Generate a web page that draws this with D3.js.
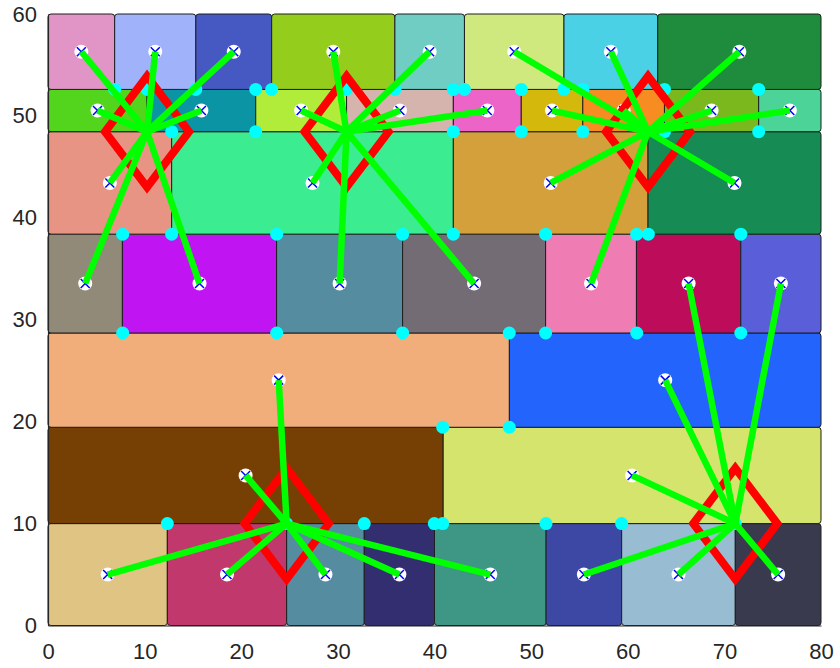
<!DOCTYPE html>
<html>
<head>
<meta charset="utf-8">
<script src="https://cdn.jsdelivr.net/npm/d3@7"></script>
<style>
  body { margin: 0; background: #fff; }
  svg text { font-family: "Liberation Sans", Arial, sans-serif; }
</style>
</head>
<body>
<div id="chart"></div>
<script>
// row boundaries (y) and the cuts (x) inside each row, bottom row first
let rowY = [0, 10, 19.45, 28.7, 38.4, 48.45, 52.6, 60];
let rowCuts = [
  [0, 12.35, 24.7, 32.73, 40.0, 51.55, 59.37, 71.13, 80],
  [0, 40.9, 80],
  [0, 47.75, 80],
  [0, 7.7, 23.66, 36.7, 51.5, 60.9, 71.7, 80],
  [0, 12.8, 41.95, 62.1, 80],
  [0, 10.25, 21.5, 30.9, 41.95, 48.98, 55.35, 63.8, 73.55, 80],
  [0, 6.9, 15.3, 23.15, 35.9, 43.1, 53.4, 63.1, 80]
];
let rowColors = [
  ['#e0c484', '#c0386c', '#568ca0', '#322e70', '#3e9684', '#3c48a4', '#98bcd2', '#3a3a4e'],
  ['#764004', '#d4e46c'],
  ['#f2ae7a', '#2264fc'],
  ['#928a78', '#c014f2', '#568ca0', '#746c74', '#f07cb4', '#bc0c5a', '#5a5ed8'],
  ['#e89484', '#3cec90', '#d4a03c', '#168c54'],
  ['#52d51c', '#0a94a4', '#b2ec3a', '#d6b4ae', '#ec64c8', '#d4b80c', '#f78c22', '#7ab81e', '#4cd398'],
  ['#e194c6', '#9fb2fa', '#4659c3', '#95cd1d', '#6fcdc4', '#cfe97f', '#4ad1e6', '#1e8c3c']
];
let rowGroups = [
  ['D', 'D', 'D', 'D', 'D', 'E', 'E', 'E'],
  ['D', 'E'],
  ['D', 'E'],
  ['A', 'A', 'B', 'B', 'C', 'E', 'E'],
  ['A', 'B', 'C', 'C'],
  ['A', 'A', 'B', 'B', 'B', 'C', 'C', 'C', 'C'],
  ['A', 'A', 'A', 'B', 'B', 'C', 'C', 'C']
];

let hubNames = ['A', 'B', 'C', 'D', 'E'];
let hubX = [10.25, 30.9, 62.1, 24.7, 71.13];
let hubY = [48.45, 48.45, 48.45, 10, 10];

let nodeX = [6.9, 10.25, 15.3, 21.5, 23.15, 30.9, 35.9, 41.95, 43.1, 48.98, 53.4, 55.35, 63.8, 73.55,
  12.8, 21.5, 41.95, 48.98, 55.35, 63.8, 73.55,
  7.73, 12.8, 23.67, 36.7, 41.95, 51.5, 60.93, 62.13, 71.7,
  7.73, 23.67, 36.7, 47.74, 51.5, 60.93, 71.7,
  40.85, 47.74,
  12.35, 24.7, 32.73, 39.98, 40.85, 51.54, 59.37, 71.13];
let nodeY = [52.6, 52.6, 52.6, 52.6, 52.6, 52.6, 52.6, 52.6, 52.6, 52.6, 52.6, 52.6, 52.6, 52.6,
  48.45, 48.45, 48.45, 48.45, 48.45, 48.45, 48.45,
  38.4, 38.4, 38.4, 38.4, 38.4, 38.4, 38.4, 38.4, 38.4,
  28.7, 28.7, 28.7, 28.7, 28.7, 28.7, 28.7,
  19.45, 19.45,
  10, 10, 10, 10, 10, 10, 10, 10];

let xTicks = [0, 10, 20, 30, 40, 50, 60, 70, 80];
let yTicks = [0, 10, 20, 30, 40, 50, 60];

let width = 840,
    height = 668;

let cells = [];
rowCuts.forEach((cuts, r) => {
  for (let i = 0; i < cuts.length - 1; i++) {
    cells.push({
      x0: cuts[i], x1: cuts[i + 1], y0: rowY[r], y1: rowY[r + 1],
      color: rowColors[r][i], group: rowGroups[r][i]
    });
  }
});
cells.forEach(d => { d.cx = (d.x0 + d.x1) / 2; d.cy = (d.y0 + d.y1) / 2; });

let xScale = d3.scaleLinear().domain([0, 80]).range([48, 821]);
let yScale = d3.scaleLinear().domain([0, 60]).range([625.5, 14]);

let svg = d3.select('#chart').append('svg')
  .attr('width', width)
  .attr('height', height);

svg.append('g').selectAll('rect')
  .data(cells)
  .enter().append('rect')
    .attr('x', d => xScale(d.x0))
    .attr('y', d => yScale(d.y1))
    .attr('width', d => xScale(d.x1) - xScale(d.x0))
    .attr('height', d => yScale(d.y0) - yScale(d.y1))
    .attr('rx', 3)
    .style('fill', d => d.color)
    .style('stroke', '#1e1e1e')
    .style('stroke-width', 1);

let xAxis = svg.append('g')
  .attr('transform', 'translate(0,' + yScale(0) + ')')
  .call(d3.axisBottom(xScale).tickValues(xTicks).tickSize(0).tickPadding(18));
let yAxis = svg.append('g')
  .attr('transform', 'translate(' + xScale(0) + ',0)')
  .call(d3.axisLeft(yScale).tickValues(yTicks).tickSize(0).tickPadding(11));
[xAxis, yAxis].forEach(a => {
  a.select('.domain').style('stroke', '#262626').style('stroke-width', 1.2);
  a.selectAll('text').style('font-size', '22px').style('fill', '#262626');
});

svg.append('g').selectAll('circle')
  .data(nodeX)
  .enter().append('circle')
    .attr('cx', d => xScale(d))
    .attr('cy', (d, i) => yScale(nodeY[i]))
    .attr('r', 6.5)
    .style('fill', '#00ffff');

let centers = svg.append('g').selectAll('g')
  .data(cells)
  .enter().append('g')
    .attr('transform', d => 'translate(' + xScale(d.cx) + ',' + yScale(d.cy) + ')');
centers.append('circle')
  .attr('r', 7)
  .style('fill', '#fff');
centers.append('path')
  .attr('d', 'M-4.5,-4.5L4.5,4.5M-4.5,4.5L4.5,-4.5')
  .style('stroke', '#0000ff')
  .style('stroke-width', 1.5);

svg.append('g').selectAll('path')
  .data(hubNames)
  .enter().append('path')
    .attr('d', (d, i) => {
      let cx = xScale(hubX[i]), cy = yScale(hubY[i]);
      return 'M' + cx + ',' + (cy - 55.5) + 'L' + (cx + 42) + ',' + cy +
        'L' + cx + ',' + (cy + 55.5) + 'L' + (cx - 42) + ',' + cy + 'Z';
    })
    .style('fill', 'none')
    .style('stroke', '#ff0000')
    .style('stroke-width', 8)
    .style('stroke-linejoin', 'miter');

svg.append('g').selectAll('line')
  .data(cells)
  .enter().append('line')
    .attr('x1', d => xScale(hubX[hubNames.indexOf(d.group)]))
    .attr('y1', d => yScale(hubY[hubNames.indexOf(d.group)]))
    .attr('x2', d => xScale(d.cx))
    .attr('y2', d => yScale(d.cy))
    .style('stroke', '#00ff00')
    .style('stroke-width', 6.5);
</script>
</body>
</html>
